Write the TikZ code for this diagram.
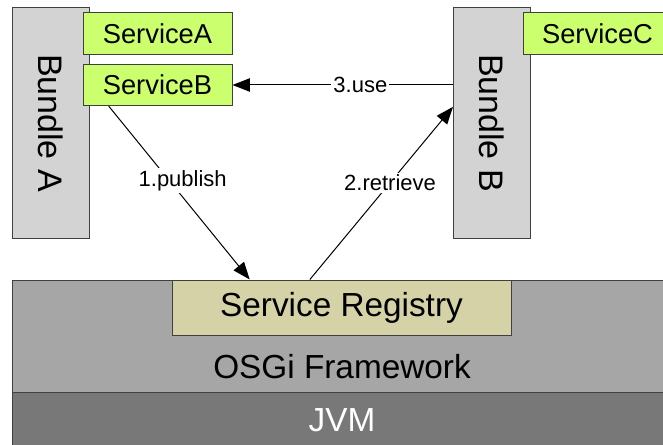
\documentclass[tikz,border=0pt]{standalone}
\usepackage{fontspec}
\setmainfont{Liberation Sans}
\usepackage{graphicx}
\usetikzlibrary{calc, positioning, arrows.meta}
\definecolor{bundlegray}{RGB}{211,211,211}
\definecolor{servicegreen}{RGB}{204,255,110}
\definecolor{registrykhaki}{RGB}{212,210,166}
\definecolor{frameworkgray}{RGB}{166,166,166}
\definecolor{jvmgray}{RGB}{120,120,120}
\definecolor{edgegray}{RGB}{64,64,64}

\begin{document}
\begin{tikzpicture}[x=0.75pt, y=-0.75pt,
  bundle/.style={draw=edgegray, line width=0.75pt, fill=bundlegray, inner sep=0pt,
    minimum width=57.75pt, minimum height=172.5pt, font=\fontsize{25.5}{30}\selectfont},
  service/.style={draw=edgegray, line width=0.75pt, fill=servicegreen, inner sep=0pt,
    minimum width=111.75pt, minimum height=31pt, font=\fontsize{20.5}{24}\selectfont},
  registry/.style={draw=edgegray, line width=0.75pt, fill=registrykhaki, inner sep=0pt,
    minimum width=254.25pt, minimum height=41.25pt, font=\fontsize{25}{30}\selectfont},
  layertext/.style={inner sep=0pt, font=\fontsize{25}{30}\selectfont},
  steplabel/.style={fill=white, inner sep=1.5pt, font=\fontsize{16.5}{20}\selectfont},
  flow/.style={black, line width=0.75pt, -{Triangle[length=13pt, width=10pt]}}
]

% --- Page frame ---
\useasboundingbox (0,0) rectangle (663,445);
\clip (0,0) rectangle (663,445);

% --- Platform layers ---
\fill[frameworkgray, draw=edgegray, line width=0.75pt] (12,280) rectangle (700,392);
\fill[jvmgray, draw=edgegray, line width=0.75pt] (12,392) rectangle (700,460);
\node[layertext] (osgi) at (342,367) {OSGi Framework};
\node[layertext, white] (jvm) at (342,420) {JVM};

% --- Service registry ---
\node[registry] (registry) at (341.5,307.5) {Service Registry};

% --- Bundles ---
\node[bundle] (bundleA) at (50.5,123) {\rotatebox{-90}{Bundle A}};
\node[bundle] (bundleB) at (492,123) {\rotatebox{-90}{Bundle B}};

% --- Services ---
\node[service] (serviceA) at (157.5,33.5) {ServiceA};
\node[service] (serviceB) at (157.5,85) {ServiceB};
\node[service] (serviceC) at (597.5,33.5) {ServiceC};

% --- Connector end points ---
\coordinate (publishStart) at ($(serviceB.south west)!0.175!(serviceB.south east)$);
\coordinate (publishEnd) at ($(registry.north west)!0.23!(registry.north east)$);
\coordinate (retrieveStart) at ($(registry.north west)!0.407!(registry.north east)$);
\coordinate (retrieveEnd) at ($(bundleB.north west)!0.43!(bundleB.south west)$);
\coordinate (useStart) at (bundleB.west |- serviceB.east);

% --- Steps ---
\draw[flow] (publishStart) -- (publishEnd)
  node[steplabel, pos=0.43, xshift=10pt] (publish) {1.publish};
\draw[flow] (retrieveStart) -- (retrieveEnd)
  node[steplabel, pos=0.56] (retrieve) {2.retrieve};
\draw[flow] (useStart) -- (serviceB.east)
  node[steplabel, pos=0.42] (use) {3.use};

\end{tikzpicture}
\end{document}
